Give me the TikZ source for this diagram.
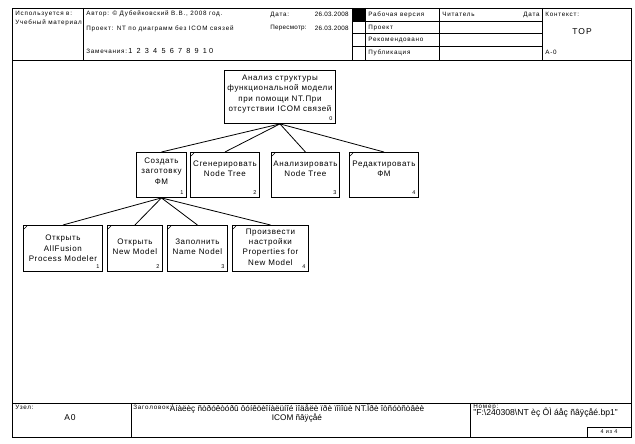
\documentclass[tikz,border=0pt]{standalone}
\usepackage{fontspec}
\setmainfont{Liberation Sans}
\newfontfamily\hd[LetterSpace=12]{Liberation Sans}
\newfontfamily\hdn[LetterSpace=4]{Liberation Sans}
\newfontfamily\hdw[LetterSpace=30]{Liberation Sans}
\newfontfamily\dg[LetterSpace=8]{Liberation Sans}
\begin{document}
\begin{tikzpicture}[x=1pt,y=-1pt,line width=0.8pt,
  box/.style={draw,line width=0.9pt,inner sep=0pt,anchor=north west,minimum height=#1},
  box/.default=45,
  txt/.style={font=\dg\fontsize{8}{10.3}\selectfont,align=center,inner sep=0pt},
  num/.style={font=\hd\fontsize{5.5}{6}\selectfont,inner sep=0pt},
  hdr/.style={font=\hd\fontsize{6.3}{7}\selectfont,inner sep=0pt,anchor=west},
  hdrr/.style={hdr,anchor=east},
  big/.style={font=\fontsize{8.2}{8.8}\selectfont,inner sep=0pt},
  conn/.style={line width=0.8pt}]
\fill[white] (0,0) rectangle (635,444);
\useasboundingbox (0,0) rectangle (635,444);
% frame
\draw (12,8) rectangle (631,437);
\draw (12,60) -- (631,60);
\draw (83,8) -- (83,60);
\draw (352,8) -- (352,60);
\draw (365,8) -- (365,60);
\draw (439,8) -- (439,60);
\draw (542,8) -- (542,60);
\draw (352,21) -- (542,21);
\draw (352,33.5) -- (542,33.5);
\draw (352,46) -- (542,46);
\fill[black] (352,8) rectangle (365,21);
% header texts
\node[hdr] (h1) at (15,14) {Используется в:};
\node[hdr] (h2) at (15,23) {Учебный материал};
\node[hdr] (h3) at (86,14) {Автор: © Дубейковский В.В., 2008 год.};
\node[hdr] (h4) at (86,29) {Проект: NT по диаграмм без ICOM связей};
\node[hdr] (h5) at (86,51) {Замечания:};
\node[hdr,font=\hdw\fontsize{7.3}{8}\selectfont] (h6) at (128,51) {1 2 3 4 5 6 7 8 9 10};
\node[hdr] (h7) at (270,14.5) {Дата:};
\node[hdrr,font=\hdn\fontsize{6.3}{7}\selectfont] (h8) at (349,14.5) {26.03.2008};
\node[hdr,font=\hdn\fontsize{6.3}{7}\selectfont] (h9) at (270,28) {Пересмотр:};
\node[hdrr,font=\hdn\fontsize{6.3}{7}\selectfont] (h10) at (349,28) {26.03.2008};
\node[hdr] (h11) at (368,14.5) {Рабочая версия};
\node[hdr] (h12) at (368,27.5) {Проект};
\node[hdr] (h13) at (368,40) {Рекомендовано};
\node[hdr] (h14) at (368,52.5) {Публикация};
\node[hdr] (h15) at (442,14.5) {Читатель};
\node[hdrr] (h16) at (540,14.5) {Дата};
\node[hdr] (h17) at (545,14.5) {Контекст:};
\node[font=\hd\fontsize{8.5}{9}\selectfont,inner sep=0pt] (h18) at (582,31.5) {TOP};
\node[hdr] (h19) at (545,52.7) {A-0};
% footer
\draw (12,403) -- (631,403);
\draw (131,403) -- (131,437);
\draw (470,403) -- (470,437);
\draw (587,427) rectangle (631,437);
\node[hdr] (f1) at (15,407.5) {Узел:};
\node[font=\hd\fontsize{8.5}{9}\selectfont,inner sep=0pt] (f2) at (70,418) {A0};
\node[big,align=center] (f4) at (297,413.5) {Àíàëèç ñòðóêòóðû ôóíêöèîíàëüíîé ìîäåëè ïðè ïîìîùè NT.Ïðè îòñóòñòâèè\\ ICOM ñâÿçåé};
\node[hdr] (f3) at (133,407.5) {Заголовок:};
\node[hdr] (f5) at (473,406.5) {Номер:};
\node[big,anchor=west,font=\fontsize{8.6}{9}\selectfont] (f6) at (473,413) {"F:\textbackslash 240308\textbackslash NT èç ÔÌ áåç ñâÿçåé.bp1"};
\node[num] (f7) at (609,432) {4 из 4};
% diagram boxes
\node[box=53,minimum width=111] (r) at (224,70) {};
\node[box,minimum width=50] (b1) at (136,152) {};
\node[box,minimum width=69] (b2) at (190,152) {};
\node[box,minimum width=68] (b3) at (271,152) {};
\node[box,minimum width=69] (b4) at (349,152) {};
\node[box=46,minimum width=79] (c1) at (23,225) {};
\node[box=46,minimum width=55] (c2) at (107,225) {};
\node[box=46,minimum width=60] (c3) at (167,225) {};
\node[box=46,minimum width=76] (c4) at (232,225) {};
% texts
\node[txt] (tr) at ([yshift=3pt]r.center) {Анализ структуры\\функциональной модели\\при помощи NT.При\\отсутствии ICOM связей};
\node[txt] (t1) at ([yshift=4pt]b1.center) {Создать\\заготовку\\ФМ};
\node[txt] (t2) at ([yshift=6pt]b2.center) {Сгенерировать\\Node Tree};
\node[txt] (t3) at ([yshift=6pt]b3.center) {Анализировать\\Node Tree};
\node[txt] (t4) at ([yshift=6pt]b4.center) {Редактировать\\ФМ};
\node[txt] (u1) at ([yshift=0pt]c1.center) {Открыть\\AllFusion\\Process Modeler};
\node[txt] (u2) at ([yshift=2pt]c2.center) {Открыть\\New Model};
\node[txt] (u3) at ([yshift=2pt]c3.center) {Заполнить\\Name Nodel};
\node[txt] (u4) at ([yshift=1.5pt]c4.center) {Произвести\\настройки\\Properties for\\New Model};
% numbers
\node[num] (nr) at ([shift={(-5,-5)}]r.south east) {0};
\node[num] (n1) at ([shift={(-5,-5)}]b1.south east) {1};
\node[num] (n2) at ([shift={(-5,-5)}]b2.south east) {2};
\node[num] (n3) at ([shift={(-5,-5)}]b3.south east) {3};
\node[num] (n4) at ([shift={(-5,-5)}]b4.south east) {4};
\node[num] (m1) at ([shift={(-5,-5)}]c1.south east) {1};
\node[num] (m2) at ([shift={(-5,-5)}]c2.south east) {2};
\node[num] (m3) at ([shift={(-5,-5)}]c3.south east) {3};
\node[num] (m4) at ([shift={(-5,-5)}]c4.south east) {4};
% corner ticks
\foreach \b in {b2,b3,b4,c1,c2,c3,c4}
  \draw[line width=0.6pt] ([shift={(1,4)}]\b.north west) -- ([shift={(4,1)}]\b.north west);
% connectors
\foreach \b in {b1,b2,b3,b4} \draw[conn] (r.south) -- (\b.north);
\foreach \b in {c1,c2,c3,c4} \draw[conn] (b1.south) -- (\b.north);
\end{tikzpicture}
\end{document}
